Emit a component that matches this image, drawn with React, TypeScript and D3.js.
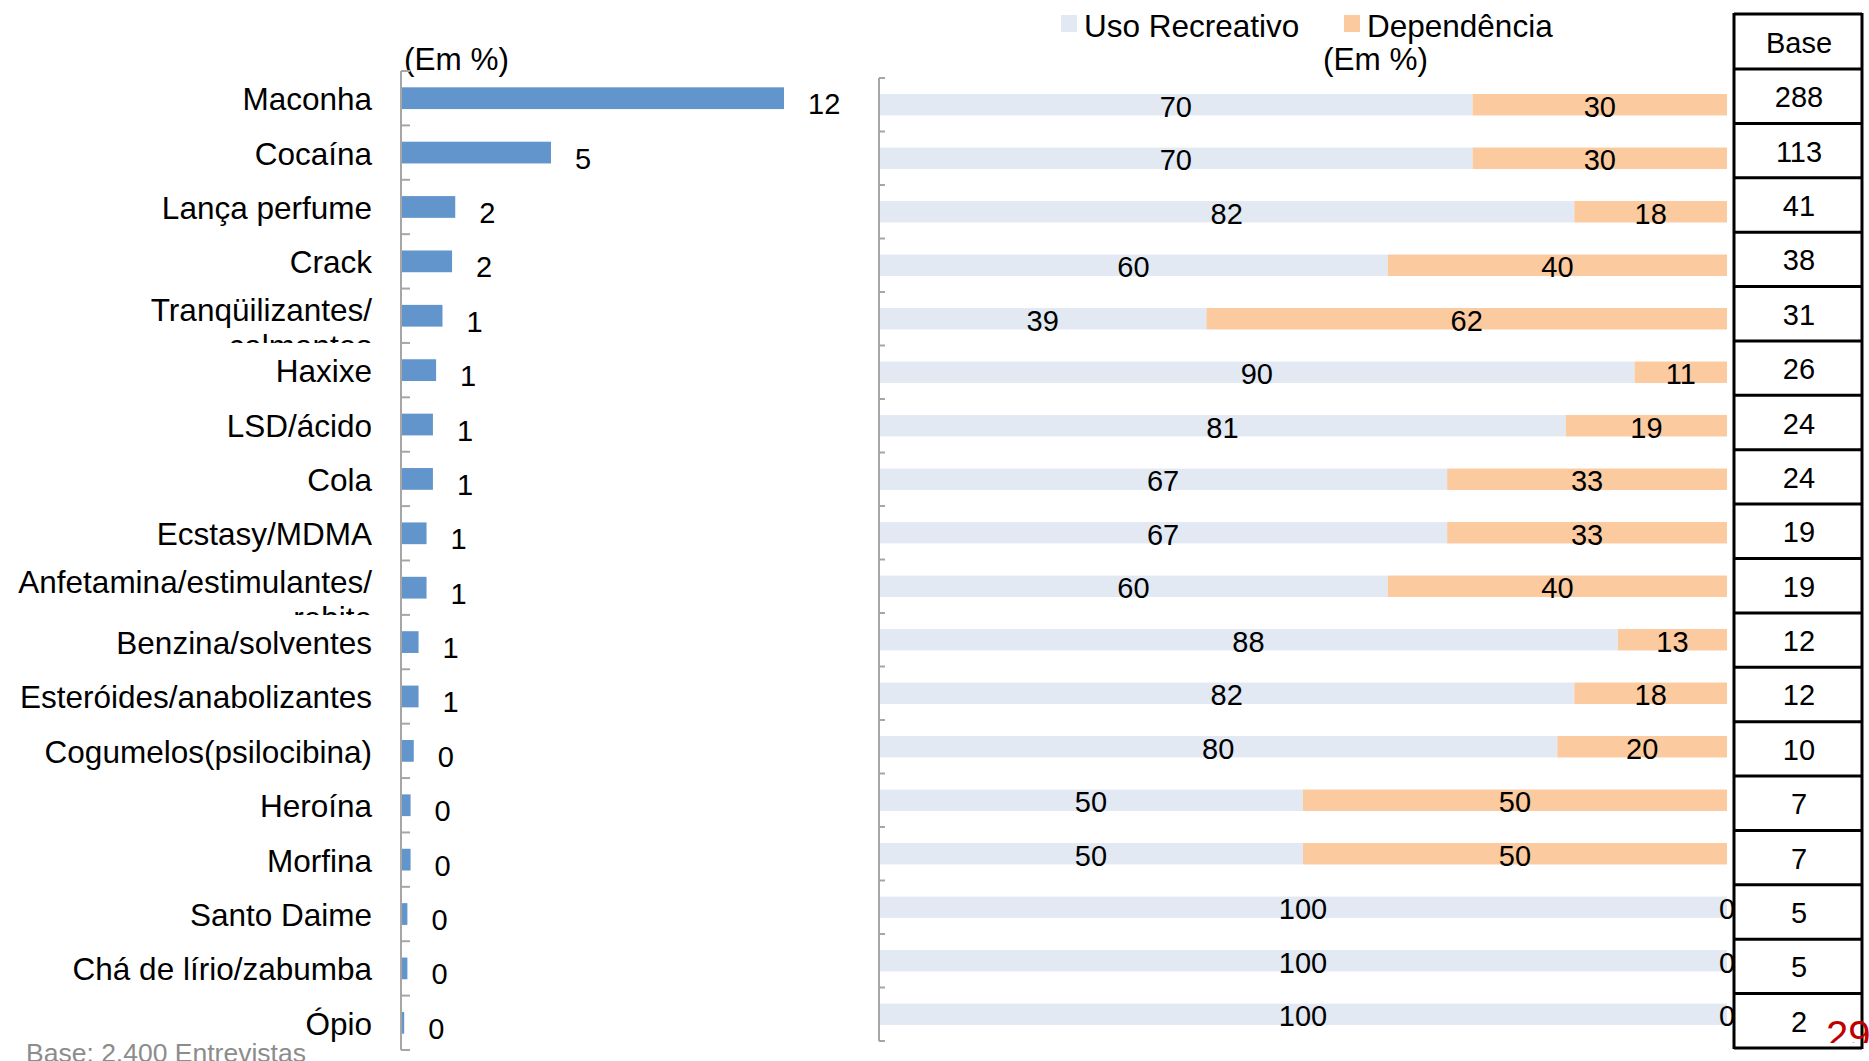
import * as d3 from "d3";

// Categories (top to bottom)
const drugs = [
  "Maconha",
  "Cocaína",
  "Lança perfume",
  "Crack",
  "Tranqüilizantes/\ncalmantes",
  "Haxixe",
  "LSD/ácido",
  "Cola",
  "Ecstasy/MDMA",
  "Anfetamina/estimulantes/\nrebite",
  "Benzina/solventes",
  "Esteróides/anabolizantes",
  "Cogumelos(psilocibina)",
  "Heroína",
  "Morfina",
  "Santo Daime",
  "Chá de lírio/zabumba",
  "Ópio",
];

// Left panel: share that ever used (Em %)
const everUsed = [12.0, 4.7, 1.7, 1.6, 1.3, 1.1, 1.0, 1.0, 0.8, 0.8, 0.55, 0.55, 0.4, 0.3, 0.3, 0.2, 0.2, 0.1];

// Right panel: recreational use vs dependence (Em %)
const recreativo = [70, 70, 82, 60, 39, 90, 81, 67, 67, 60, 88, 82, 80, 50, 50, 100, 100, 100];
const dependencia = [30, 30, 18, 40, 62, 11, 19, 33, 33, 40, 13, 18, 20, 50, 50, 0, 0, 0];

// Base column
const baseCounts = [288, 113, 41, 38, 31, 26, 24, 24, 19, 19, 12, 12, 10, 7, 7, 5, 5, 2];

const FONT = "'Liberation Sans', Arial, sans-serif";
const BLUE = "#6195cb";
const LIGHT = "#e2e9f3";
const PEACH = "#fbca9f";
const AXIS = "#a6a6a6";

export default function App() {
  const width = 1869;
  const height = 1061;

  // left chart scales
  const yL = d3.scaleBand<number>().domain(d3.range(drugs.length)).range([71, 1050]).paddingInner(0.6).paddingOuter(0.3);
  const stepL = yL.step();
  const xL = d3.scaleLinear().domain([0, 12]).range([401, 784]);
  const fmt = d3.format(".0f");

  // right chart scales
  const yR = d3.scaleBand<number>().domain(d3.range(drugs.length)).range([78, 1041]).paddingInner(0.6).paddingOuter(0.3);
  const stepR = yR.step();
  const xR = d3.scaleLinear().domain([0, 100]).range([879, 1727]);

  // table rows
  const yT = d3.scaleBand<number>().domain(d3.range(drugs.length)).range([69, 1048]);
  const tableX0 = 1734;
  const tableX1 = 1862;
  const tableCx = (tableX0 + tableX1) / 2 + 1;

  const stacked = drugs.map((_, i) => {
    const total = recreativo[i] + dependencia[i];
    const u = (recreativo[i] / total) * 100;
    return { u, d: 100 - u };
  });

  return (
    <svg
      width={width}
      height={height}
      style={{ position: "absolute", left: 0, top: 0, background: "#fff" }}
      fontFamily={FONT}
    >
      <defs>
        {drugs.map((_, i) => (
          <clipPath id={`rowclip-${i}`} key={i}>
            <rect x={0} y={71 + i * stepL} width={395} height={stepL} />
          </clipPath>
        ))}
        <clipPath id="pageclip">
          <rect x={0} y={0} width={width} height={1043} />
        </clipPath>
      </defs>

      {/* ---------- left chart ---------- */}
      <text x={404} y={70} fontSize={31.5} fill="#000">(Em %)</text>

      {drugs.map((name, i) => {
        const cy = yL(i)! + yL.bandwidth() / 2;
        const lines = name.split("\n");
        const base = lines.length > 1 ? cy + 5 : cy + 12;
        return (
          <text
            key={name}
            x={372}
            y={base}
            fontSize={31.5}
            textAnchor="end"
            fill="#000"
            clipPath={`url(#rowclip-${i})`}
          >
            {lines.map((ln, k) => (
              <tspan key={k} x={372} dy={k === 0 ? 0 : 36}>
                {ln}
              </tspan>
            ))}
          </text>
        );
      })}

      {everUsed.map((v, i) => (
        <rect key={i} x={xL(0)} y={yL(i)} width={xL(v) - xL(0)} height={yL.bandwidth()} fill={BLUE} />
      ))}

      {everUsed.map((v, i) => (
        <text key={i} x={xL(v) + 24} y={yL(i)! + yL.bandwidth() / 2 + 16} fontSize={29} fill="#000">
          {fmt(v)}
        </text>
      ))}

      <line x1={401} x2={401} y1={71} y2={1050} stroke={AXIS} strokeWidth={2} />
      {d3.range(drugs.length + 1).map((i) => (
        <line key={i} x1={401} x2={410} y1={71 + i * stepL} y2={71 + i * stepL} stroke={AXIS} strokeWidth={2} />
      ))}

      {/* ---------- right chart ---------- */}
      <rect x={1061} y={15} width={16} height={17} fill={LIGHT} />
      <text x={1084} y={37} fontSize={31.5} fill="#000">Uso Recreativo</text>
      <rect x={1344} y={15} width={16} height={17} fill={PEACH} />
      <text x={1367} y={37} fontSize={31.5} fill="#000">Dependência</text>
      <text x={1323} y={70} fontSize={31.5} fill="#000">(Em %)</text>

      {stacked.map((s, i) => (
        <g key={i}>
          <rect x={xR(0)} y={yR(i)} width={xR(s.u) - xR(0)} height={yR.bandwidth()} fill={LIGHT} />
          <rect x={xR(s.u)} y={yR(i)} width={xR(100) - xR(s.u)} height={yR.bandwidth()} fill={PEACH} />
        </g>
      ))}
      {stacked.map((s, i) => {
        const ty = yR(i)! + yR.bandwidth() / 2 + 12;
        return (
          <g key={i} fontSize={29} fill="#000" textAnchor="middle">
            <text x={(xR(0) + xR(s.u)) / 2} y={ty}>{recreativo[i]}</text>
            <text x={(xR(s.u) + xR(100)) / 2} y={ty}>{dependencia[i]}</text>
          </g>
        );
      })}

      <line x1={879} x2={879} y1={78} y2={1041} stroke={AXIS} strokeWidth={2} />
      {d3.range(drugs.length + 1).map((i) => (
        <line key={i} x1={879} x2={885} y1={78 + i * stepR} y2={78 + i * stepR} stroke={AXIS} strokeWidth={2} />
      ))}

      {/* ---------- base table ---------- */}
      <g fontSize={29} textAnchor="middle" fill="#000">
        <rect x={tableX0} y={14} width={tableX1 - tableX0} height={1048 - 14} fill="#fff" stroke="none" />
        <text x={tableCx} y={53}>Base</text>
        {baseCounts.map((n, i) => (
          <text key={i} x={tableCx} y={yT(i)! + yT.bandwidth() / 2 + 11}>{n}</text>
        ))}
        <g stroke="#000" strokeWidth={3}>
          <line x1={tableX0} x2={tableX0} y1={13} y2={1049} />
          <line x1={tableX1} x2={tableX1} y1={13} y2={1049} />
          <line x1={tableX0} x2={tableX1} y1={14} y2={14} />
          {d3.range(drugs.length + 1).map((i) => (
            <line key={i} x1={tableX0} x2={tableX1} y1={69 + i * yT.step()} y2={69 + i * yT.step()} />
          ))}
        </g>
      </g>

      {/* footnote & page number */}
      <text x={26} y={1062} fontSize={26.5} fill="#8c8c8c">Base: 2.400 Entrevistas</text>
      <text x={1826} y={1049} fontSize={40} fill="#c00000" clipPath="url(#pageclip)">29</text>
    </svg>
  );
}
